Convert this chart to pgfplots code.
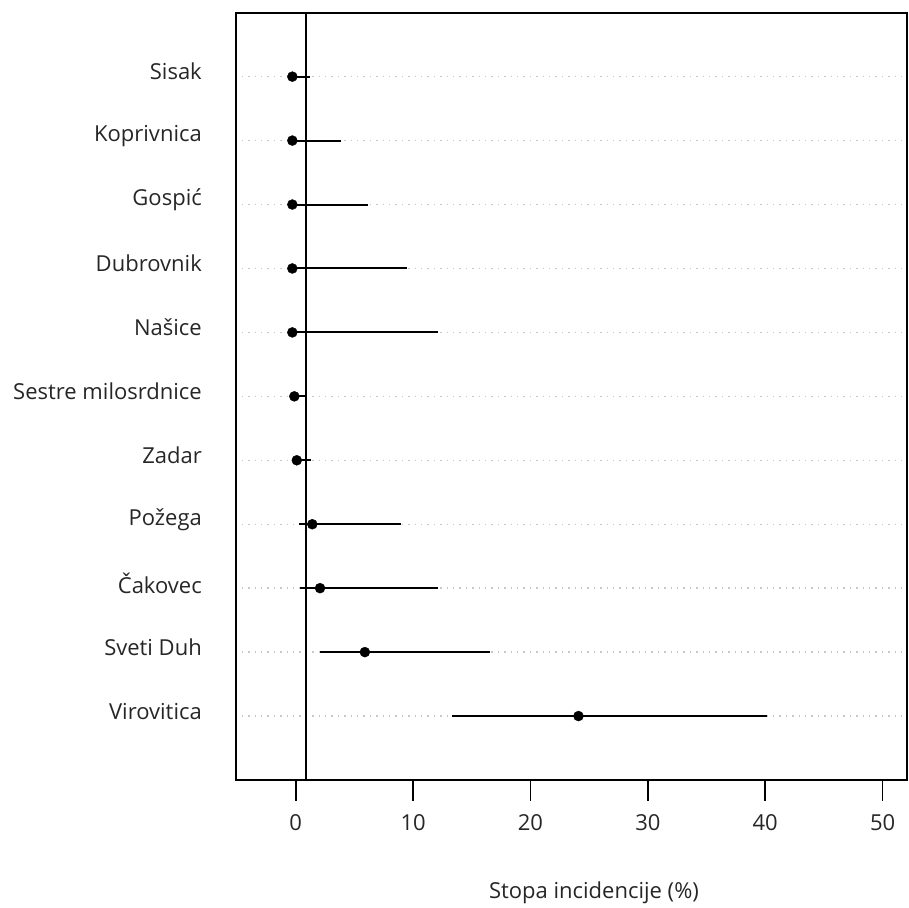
\documentclass[border=0pt]{standalone}
\usepackage{fontspec}
\setmainfont{Open Sans}
\usepackage{pgfplots}
\usepackage{pgfplotstable}
\pgfplotsset{compat=1.18}
\pgfplotstableread{
y lo pt hi
11 -0.29 -0.29 1.22
10 -0.29 -0.29 3.83
9 -0.29 -0.29 6.17
8 -0.29 -0.29 9.46
7 -0.29 -0.29 12.13
6 -0.12 -0.12 0.90
5 0.09 0.09 1.28
4 0.28 1.41 8.93
3 0.39 2.07 12.13
2 2.09 5.89 16.58
1 13.35 24.09 40.14
}\datatable
\begin{document}
\begin{tikzpicture}[x=1pt,y=1pt]
\path[use as bounding box] (-236pt,-127pt) rectangle (673pt,780pt);
\begin{axis}[
  at={(0,0)}, anchor=south west,
  scale only axis, width=671pt, height=767.3pt,
  xmin=-5.09, xmax=52.08, ymin=0, ymax=12,
  axis line style={line width=1.8pt},
  xtick={0,10,20,30,40,50},
  xtick pos=bottom,
  tick align=outside,
  major tick length=21pt,
  x tick style={line width=1.8pt, black},
  ytick={1,2,3,4,5,6,7,8,9,10,11},
  yticklabels={Virovitica,Sveti Duh,Čakovec,Požega,Zadar,Sestre milosrdnice,Našice,Dubrovnik,Gospić,Koprivnica,Sisak},
  y tick style={draw=none},
  ytick pos=left,
  font=\fontsize{22}{26}\selectfont,
  ticklabel style={font=\fontsize{22}{26}\selectfont, text=black!85},
  yticklabel style={anchor=east, inner sep=0pt, xshift=-13pt, yshift=5pt},
  xticklabel style={anchor=north, inner sep=0pt, yshift=-13pt},
  /pgf/number format/assume math mode=true,
  xlabel={Stopa incidencije (\%)},
  xlabel style={at={(rel axis cs:0.5335,0)}, anchor=center, yshift=-113pt, text=black!85, font=\fontsize{22}{26}\selectfont},
  clip=true,
]
% dotted guide lines
\pgfplotsforeachungrouped \yy in {1,...,11}{
  \edef\temp{\noexpand\addplot[gray!45, line width=1.4pt, dash pattern=on 1.4pt off 5pt, forget plot] coordinates {(-4.6,\yy) (52.08,\yy)};}
  \temp
}
% reference line
\addplot[black, line width=2pt, forget plot] coordinates {(0.85,0) (0.85,12)};
% confidence intervals, one segment per row
\pgfplotsforeachungrouped \r in {0,...,10}{
  \pgfplotstablegetelem{\r}{lo}\of\datatable \let\vlo=\pgfplotsretval
  \pgfplotstablegetelem{\r}{hi}\of\datatable \let\vhi=\pgfplotsretval
  \pgfplotstablegetelem{\r}{y}\of\datatable \let\vy=\pgfplotsretval
  \edef\temp{\noexpand\addplot[black, line width=2pt, forget plot] coordinates {(\vlo,\vy) (\vhi,\vy)};}
  \temp
}
% point estimates
\addplot[only marks, mark=*, mark size=5pt, mark options={fill=black, draw=none}]
  table[x=pt, y=y] {\datatable};
\end{axis}
\end{tikzpicture}
\end{document}
